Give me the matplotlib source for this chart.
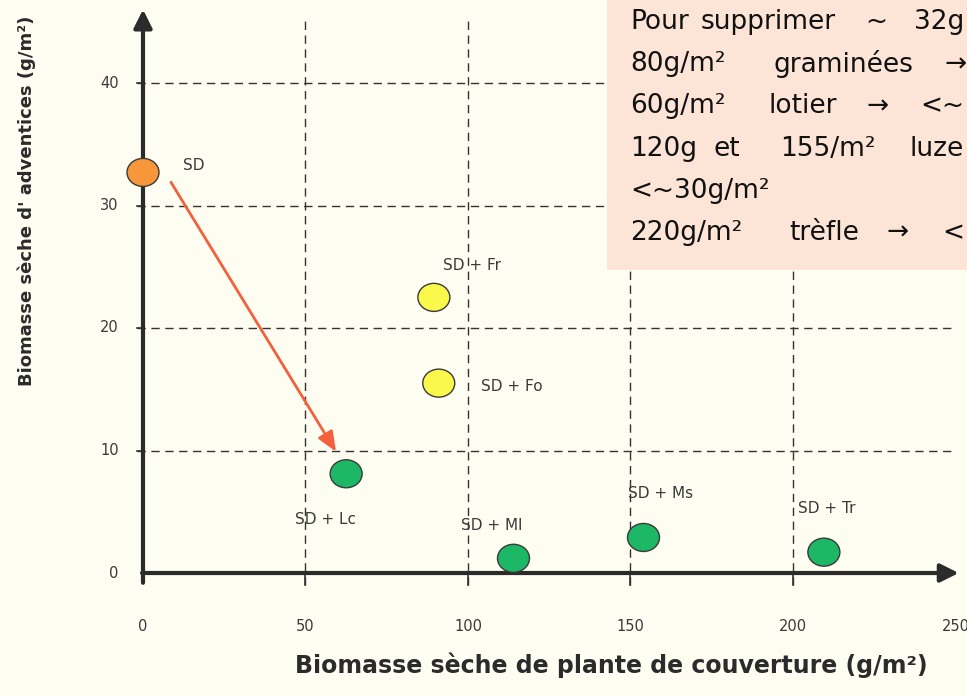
import numpy as np
import matplotlib.pyplot as plt
from matplotlib.patches import Ellipse, Rectangle

# data
labels = ['SD', 'SD + Fr', 'SD + Fo', 'SD + Lc', 'SD + Ml', 'SD + Ms', 'SD + Tr']
cover = [0, 89.5, 91, 62.5, 114, 154, 209.5]
weeds = [32.7, 22.5, 15.5, 8.1, 1.2, 2.9, 1.7]
colors = ['#f7963a', '#fbf84c', '#fbf84c', '#1db866', '#1db866', '#1db866', '#1db866']
# label offsets (data units) relative to each point
lab_dx = [12.3, 2.8, 13.0, -15.7, -16.3, -4.9, -8.0]
lab_dy = [0.6, 2.6, -0.3, -3.75, 2.7, 3.6, 3.6]

xticks = [0, 50, 100, 150, 200, 250]
yticks = [0, 10, 20, 30, 40]
arrow_start = (8.6, 31.9)
arrow_end = (59.4, 9.9)

# note box, word by word (the box is cut by the right edge of the picture)
note_words = [["Pour", "supprimer", "~", "32g"],
              ["80g/m²", "graminées", "→"],
              ["60g/m²", "lotier", "→", "<~"],
              ["120g", "et", "155/m²", "luze"],
              ["<~30g/m²"],
              ["220g/m²", "trèfle", "→", "<"]]
note_x = [[630, 768, 876, 914],
          [630, 843, 944],
          [630, 803, 878, 920],
          [630, 727, 828, 909],
          [630],
          [630, 824, 898, 942]]
note_ha = [['left', 'center', 'center', 'left'],
           ['left', 'center', 'left'],
           ['left', 'center', 'center', 'left'],
           ['left', 'center', 'center', 'left'],
           ['left'],
           ['left', 'center', 'center', 'left']]

bg = '#fdfdf1'
fig = plt.figure(figsize=(9.67, 6.96), dpi=100, facecolor=bg)
ax = fig.add_axes([0, 0, 1, 1])
ax.set_facecolor(bg)
# pixel mapping: x=0 at 143px, 3.25 px/unit ; y=0 at 573px, 12.25 px/unit
ax.set_xlim(-143 / 3.25, (967 - 143) / 3.25)
ax.set_ylim((573 - 696) / 12.25, 573 / 12.25)
ax.axis('off')

# dashed grid
for y in yticks[1:]:
    ax.plot([-1.8, 250], [y, y], color='#333333', lw=1, ls=(0, (6, 4)), zorder=1)
    ax.plot([-1.8, 0], [y, y], color='#333333', lw=1.2, zorder=1)
for x in xticks[1:-1]:
    ax.plot([x, x], [-1.0, 45.5], color='#333333', lw=1, ls=(0, (6, 4)), zorder=1)
    ax.plot([x, x], [-1.0, 0], color='#333333', lw=1.2, zorder=1)

# axes with arrows
ax.annotate('', xy=(251, 0), xytext=(-0.3, 0),
            arrowprops=dict(arrowstyle='-|>,head_length=1.1,head_width=0.55',
                            color='#2b2b2b', lw=3, shrinkA=0, shrinkB=0), zorder=3)
ax.annotate('', xy=(0, 46.0), xytext=(0, -0.8),
            arrowprops=dict(arrowstyle='-|>,head_length=1.1,head_width=0.55',
                            color='#2b2b2b', lw=3, shrinkA=0, shrinkB=0), zorder=3)

# tick labels
for x in xticks:
    ax.text(x, -4.4, str(x), ha='center', va='center', fontsize=10.5, color='#3a3a3a')
for y in yticks:
    ax.text(-7.5, y, str(y), ha='right', va='center', fontsize=10.5, color='#3a3a3a')

# points
for x, y, c in zip(cover, weeds, colors):
    ax.add_patch(Ellipse((x, y), 32 / 3.25, 28 / 12.25, facecolor=c,
                         edgecolor='#3a3a3a', lw=1, zorder=5))
for lab, x, y, dx, dy in zip(labels, cover, weeds, lab_dx, lab_dy):
    ax.text(x + dx, y + dy, lab, fontsize=11, color='#3a3a3a', va='center', ha='left', zorder=6)

# red arrow
ax.annotate('', xy=arrow_end, xytext=arrow_start,
            arrowprops=dict(arrowstyle='-|>,head_length=1.2,head_width=0.5',
                            color='#f4603c', lw=2, shrinkA=0, shrinkB=0), zorder=4)

# axis titles
ax.text(-35.7, 30.4, "Biomasse sèche d' adventices (g/m²)", rotation=90, ha='center', va='center',
        fontsize=13, fontweight='bold', color='#2b2b2b')
ax.text(144, -7.5, "Biomasse sèche de plante de couverture (g/m²)", ha='center', va='center',
        fontsize=17, fontweight='bold', color='#2b2b2b')

# note box
fig.patches.append(Rectangle((607 / 967, 1 - 270 / 696), 1, 270 / 696, transform=fig.transFigure,
                             facecolor='#fce4d6', edgecolor='none', zorder=10))
for i, (words, xs, has) in enumerate(zip(note_words, note_x, note_ha)):
    for w, px, ha in zip(words, xs, has):
        fig.text(px / 967, 1 - (22 + 42.2 * i) / 696, w, fontsize=19, color='#111111',
                 va='center', ha=ha, zorder=11)

fig.savefig('out.png', dpi=100, facecolor=bg)
